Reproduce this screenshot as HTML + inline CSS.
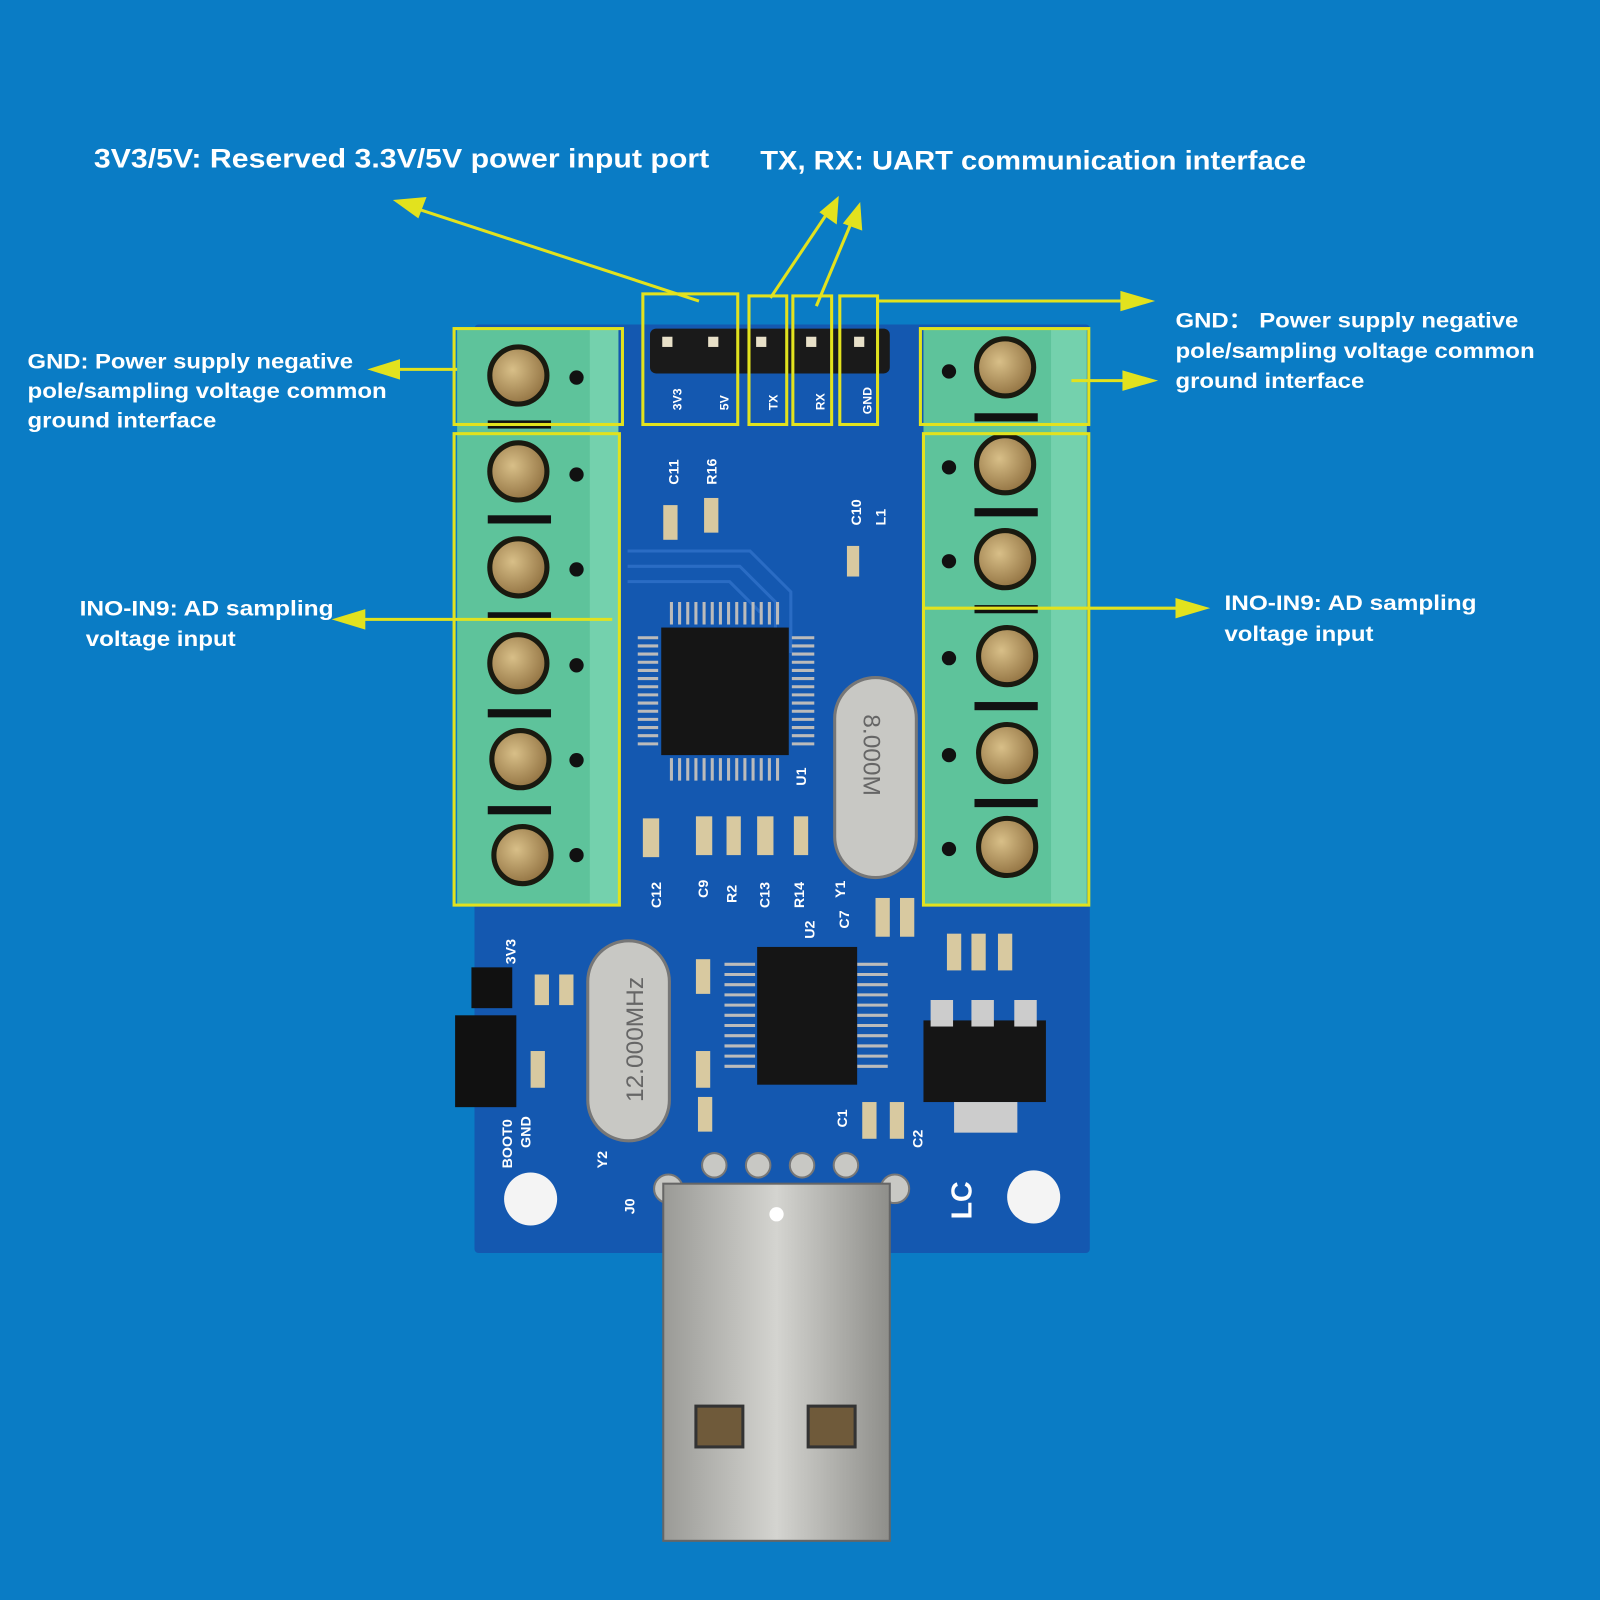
<!DOCTYPE html>
<html><head><style>html,body{margin:0;padding:0;background:#0a7cc5;}svg{display:block}</style></head><body>
<svg width="1600" height="1600" viewBox="0 0 1568 1568" xmlns="http://www.w3.org/2000/svg" font-family="Liberation Sans, sans-serif">
<defs>
<radialGradient id="scr" cx="0.4" cy="0.4" r="0.7"><stop offset="0" stop-color="#d8bf88"/><stop offset="1" stop-color="#8a6a3a"/></radialGradient>
<linearGradient id="usb" x1="0" x2="1"><stop offset="0" stop-color="#9a9a96"/><stop offset="0.5" stop-color="#d4d4d0"/><stop offset="1" stop-color="#8e8e8a"/></linearGradient>
</defs>
<rect width="1568" height="1568" fill="#0a7cc5"/>
<rect x="465" y="318" width="603" height="910" fill="#1458b0" rx="4"/>
<g stroke="#2a6cc4" stroke-width="3" fill="none">
<path d="M615 540 h120 l40 40 v60"/><path d="M615 555 h110 l35 35 v50"/><path d="M615 570 h100 l30 30"/>
</g>
<circle cx="520" cy="1175" r="26" fill="#f4f4f4"/><circle cx="1013" cy="1173" r="26" fill="#f4f4f4"/>
<rect x="637" y="322" width="235" height="44" rx="6" fill="#1a1a1a"/>
<g fill="#e8e0c8"><rect x="649" y="330" width="10" height="10"/><rect x="694" y="330" width="10" height="10"/><rect x="741" y="330" width="10" height="10"/><rect x="790" y="330" width="10" height="10"/><rect x="837" y="330" width="10" height="10"/></g>
<g fill="#fff" font-size="12" font-weight="bold">
<text transform="translate(668,402) rotate(-90)">3V3</text><text transform="translate(714,402) rotate(-90)">5V</text><text transform="translate(762,402) rotate(-90)">TX</text><text transform="translate(808,402) rotate(-90)">RX</text><text transform="translate(854,406) rotate(-90)">GND</text>
</g>
<rect x="448" y="322" width="158" height="566" fill="#5ec39b"/>
<rect x="578" y="322" width="28" height="566" fill="#74d1ad"/>
<rect x="905" y="322" width="160" height="566" fill="#5ec39b"/>
<rect x="1030" y="322" width="35" height="566" fill="#74d1ad"/>
<g fill="#111">
<rect x="478" y="505" width="62" height="8"/><rect x="478" y="600" width="62" height="8"/><rect x="478" y="695" width="62" height="8"/><rect x="478" y="790" width="62" height="8"/><rect x="478" y="412" width="62" height="8"/>
<rect x="955" y="405" width="62" height="8"/><rect x="955" y="498" width="62" height="8"/><rect x="955" y="593" width="62" height="8"/><rect x="955" y="688" width="62" height="8"/><rect x="955" y="783" width="62" height="8"/>
<circle cx="565" cy="370" r="7"/><circle cx="565" cy="465" r="7"/><circle cx="565" cy="558" r="7"/><circle cx="565" cy="652" r="7"/><circle cx="565" cy="745" r="7"/><circle cx="565" cy="838" r="7"/>
<circle cx="930" cy="364" r="7"/><circle cx="930" cy="458" r="7"/><circle cx="930" cy="550" r="7"/><circle cx="930" cy="645" r="7"/><circle cx="930" cy="740" r="7"/><circle cx="930" cy="832" r="7"/>
</g>
<g stroke="#1a1a10" stroke-width="5" fill="url(#scr)">
<circle cx="508" cy="368" r="28"/><circle cx="508" cy="462" r="28"/><circle cx="508" cy="556" r="28"/><circle cx="508" cy="650" r="28"/><circle cx="510" cy="744" r="28"/><circle cx="512" cy="838" r="28"/>
<circle cx="985" cy="360" r="28"/><circle cx="985" cy="455" r="28"/><circle cx="985" cy="548" r="28"/><circle cx="987" cy="643" r="28"/><circle cx="987" cy="738" r="28"/><circle cx="987" cy="830" r="28"/>
</g>
<rect x="648" y="615" width="125" height="125" fill="#151515"/>
<g stroke="#bbb" stroke-width="3">
<path d="M658 612 v-22 M666 612 v-22 M674 612 v-22 M682 612 v-22 M690 612 v-22 M698 612 v-22 M706 612 v-22 M714 612 v-22 M722 612 v-22 M730 612 v-22 M738 612 v-22 M746 612 v-22 M754 612 v-22 M762 612 v-22"/>
<path d="M658 743 v22 M666 743 v22 M674 743 v22 M682 743 v22 M690 743 v22 M698 743 v22 M706 743 v22 M714 743 v22 M722 743 v22 M730 743 v22 M738 743 v22 M746 743 v22 M754 743 v22 M762 743 v22"/>
<path d="M645 625 h-20 M645 633 h-20 M645 641 h-20 M645 649 h-20 M645 657 h-20 M645 665 h-20 M645 673 h-20 M645 681 h-20 M645 689 h-20 M645 697 h-20 M645 705 h-20 M645 713 h-20 M645 721 h-20 M645 729 h-20"/>
<path d="M776 625 h22 M776 633 h22 M776 641 h22 M776 649 h22 M776 657 h22 M776 665 h22 M776 673 h22 M776 681 h22 M776 689 h22 M776 697 h22 M776 705 h22 M776 713 h22 M776 721 h22 M776 729 h22"/>
<path d="M740 945 h-30 M740 955 h-30 M740 965 h-30 M740 975 h-30 M740 985 h-30 M740 995 h-30 M740 1005 h-30 M740 1015 h-30 M740 1025 h-30 M740 1035 h-30 M740 1045 h-30"/>
<path d="M840 945 h30 M840 955 h30 M840 965 h30 M840 975 h30 M840 985 h30 M840 995 h30 M840 1005 h30 M840 1015 h30 M840 1025 h30 M840 1035 h30 M840 1045 h30"/>
</g>
<rect x="742" y="928" width="98" height="135" fill="#151515"/>
<rect x="818" y="664" width="80" height="196" rx="40" fill="#c8c8c4" stroke="#777" stroke-width="3"/>
<text transform="translate(846,700) rotate(90)" font-size="24" fill="#666">8.000M</text>
<rect x="576" y="922" width="80" height="196" rx="40" fill="#c8c8c4" stroke="#777" stroke-width="3"/>
<text transform="translate(630,1080) rotate(-90)" font-size="24" fill="#666">12.000MHz</text>
<rect x="905" y="1000" width="120" height="80" fill="#151515"/>
<rect x="935" y="1080" width="62" height="30" fill="#ccc"/>
<g fill="#ccc"><rect x="912" y="980" width="22" height="26"/><rect x="952" y="980" width="22" height="26"/><rect x="994" y="980" width="22" height="26"/></g>
<rect x="446" y="995" width="60" height="90" fill="#111"/><rect x="462" y="948" width="40" height="40" fill="#111"/>
<g fill="#d8c9a0">
<rect x="650" y="495" width="14" height="34"/><rect x="690" y="488" width="14" height="34"/><rect x="830" y="535" width="12" height="30"/>
<rect x="630" y="802" width="16" height="38"/><rect x="682" y="800" width="16" height="38"/><rect x="712" y="800" width="14" height="38"/><rect x="742" y="800" width="16" height="38"/><rect x="778" y="800" width="14" height="38"/>
<rect x="682" y="940" width="14" height="34"/><rect x="682" y="1030" width="14" height="36"/><rect x="684" y="1075" width="14" height="34"/>
<rect x="858" y="880" width="14" height="38"/><rect x="882" y="880" width="14" height="38"/><rect x="928" y="915" width="14" height="36"/><rect x="952" y="915" width="14" height="36"/><rect x="978" y="915" width="14" height="36"/>
<rect x="845" y="1080" width="14" height="36"/><rect x="872" y="1080" width="14" height="36"/><rect x="520" y="1030" width="14" height="36"/><rect x="524" y="955" width="14" height="30"/><rect x="548" y="955" width="14" height="30"/>
</g>
<g fill="#fff" font-size="14" font-weight="bold">
<text transform="translate(665,475) rotate(-90)">C11</text><text transform="translate(702,475) rotate(-90)">R16</text><text transform="translate(844,515) rotate(-90)">C10</text><text transform="translate(868,515) rotate(-90)">L1</text>
<text transform="translate(648,890) rotate(-90)">C12</text><text transform="translate(694,880) rotate(-90)">C9</text><text transform="translate(722,885) rotate(-90)">R2</text><text transform="translate(754,890) rotate(-90)">C13</text><text transform="translate(788,890) rotate(-90)">R14</text>
<text transform="translate(828,880) rotate(-90)">Y1</text><text transform="translate(832,910) rotate(-90)">C7</text><text transform="translate(798,920) rotate(-90)">U2</text><text transform="translate(790,770) rotate(-90)">U1</text>
<text transform="translate(505,945) rotate(-90)">3V3</text><text transform="translate(502,1145) rotate(-90)">BOOT0</text><text transform="translate(520,1125) rotate(-90)">GND</text>
<text transform="translate(595,1145) rotate(-90)">Y2</text><text transform="translate(622,1190) rotate(-90)">J0</text><text transform="translate(830,1105) rotate(-90)">C1</text><text transform="translate(904,1125) rotate(-90)">C2</text>
<text transform="translate(952,1195) rotate(-90)" font-size="28">LC</text>
</g>
<g fill="#c8c8c4" stroke="#777" stroke-width="2"><circle cx="700" cy="1142" r="12"/><circle cx="743" cy="1142" r="12"/><circle cx="786" cy="1142" r="12"/><circle cx="829" cy="1142" r="12"/><circle cx="655" cy="1165" r="14"/><circle cx="877" cy="1165" r="14"/></g>
<rect x="650" y="1160" width="222" height="350" fill="url(#usb)" stroke="#666" stroke-width="2"/>
<rect x="682" y="1378" width="46" height="40" fill="#6f5a3a" stroke="#333" stroke-width="3"/>
<rect x="792" y="1378" width="46" height="40" fill="#6f5a3a" stroke="#333" stroke-width="3"/>
<circle cx="761" cy="1190" r="7" fill="#fff"/>
<g fill="none" stroke="#e2e21e" stroke-width="3">
<rect x="445" y="322" width="165" height="94"/><rect x="445" y="425" width="162" height="462"/>
<rect x="902" y="322" width="165" height="94"/><rect x="905" y="425" width="162" height="462"/>
<rect x="630" y="288" width="93" height="128"/><rect x="734" y="290" width="37" height="126"/><rect x="777" y="290" width="38" height="126"/><rect x="823" y="290" width="37" height="126"/>
</g>
<g stroke="#e2e21e" stroke-width="3" fill="#e2e21e">
<line x1="685" y1="295" x2="410" y2="205"/><polygon points="385,196 418,193 410,214" stroke="none"/>
<line x1="755" y1="292" x2="812" y2="207"/><polygon points="822,192 820,220 803,208" stroke="none"/>
<line x1="800" y1="300" x2="836" y2="214"/><polygon points="843,198 845,226 826,219" stroke="none"/>
<line x1="860" y1="295" x2="1105" y2="295"/><polygon points="1132,295 1098,285 1098,305" stroke="none"/>
<line x1="448" y1="362" x2="385" y2="362"/><polygon points="360,362 392,352 392,372" stroke="none"/>
<line x1="1050" y1="373" x2="1108" y2="373"/><polygon points="1135,373 1100,363 1100,383" stroke="none"/>
<line x1="600" y1="607" x2="352" y2="607"/><polygon points="325,607 358,597 358,617" stroke="none"/>
<line x1="905" y1="596" x2="1158" y2="596"/><polygon points="1186,596 1152,586 1152,606" stroke="none"/>
</g>
<g fill="#fff" font-weight="bold" lengthAdjust="spacingAndGlyphs">
<text x="92" y="164" font-size="26" textLength="603" lengthAdjust="spacingAndGlyphs">3V3/5V: Reserved 3.3V/5V power input port</text>
<text x="745" y="166" font-size="26" textLength="535" lengthAdjust="spacingAndGlyphs">TX, RX: UART communication interface</text>
<g font-size="21">
<text x="27" y="361" textLength="319" lengthAdjust="spacingAndGlyphs">GND: Power supply negative</text><text x="27" y="390" textLength="352" lengthAdjust="spacingAndGlyphs">pole/sampling voltage common</text><text x="27" y="419" textLength="185" lengthAdjust="spacingAndGlyphs">ground interface</text>
<text x="1152" y="321" textLength="336" lengthAdjust="spacingAndGlyphs">GND：  Power supply negative</text><text x="1152" y="351" textLength="352" lengthAdjust="spacingAndGlyphs">pole/sampling voltage common</text><text x="1152" y="380" textLength="185" lengthAdjust="spacingAndGlyphs">ground interface</text>
<text x="78" y="603" textLength="249" lengthAdjust="spacingAndGlyphs">INO-IN9: AD sampling</text><text x="84" y="633" textLength="147" lengthAdjust="spacingAndGlyphs">voltage input</text>
<text x="1200" y="598" textLength="247" lengthAdjust="spacingAndGlyphs">INO-IN9: AD sampling</text><text x="1200" y="628" textLength="146" lengthAdjust="spacingAndGlyphs">voltage input</text>
</g>
</g>
</svg>
</body></html>
